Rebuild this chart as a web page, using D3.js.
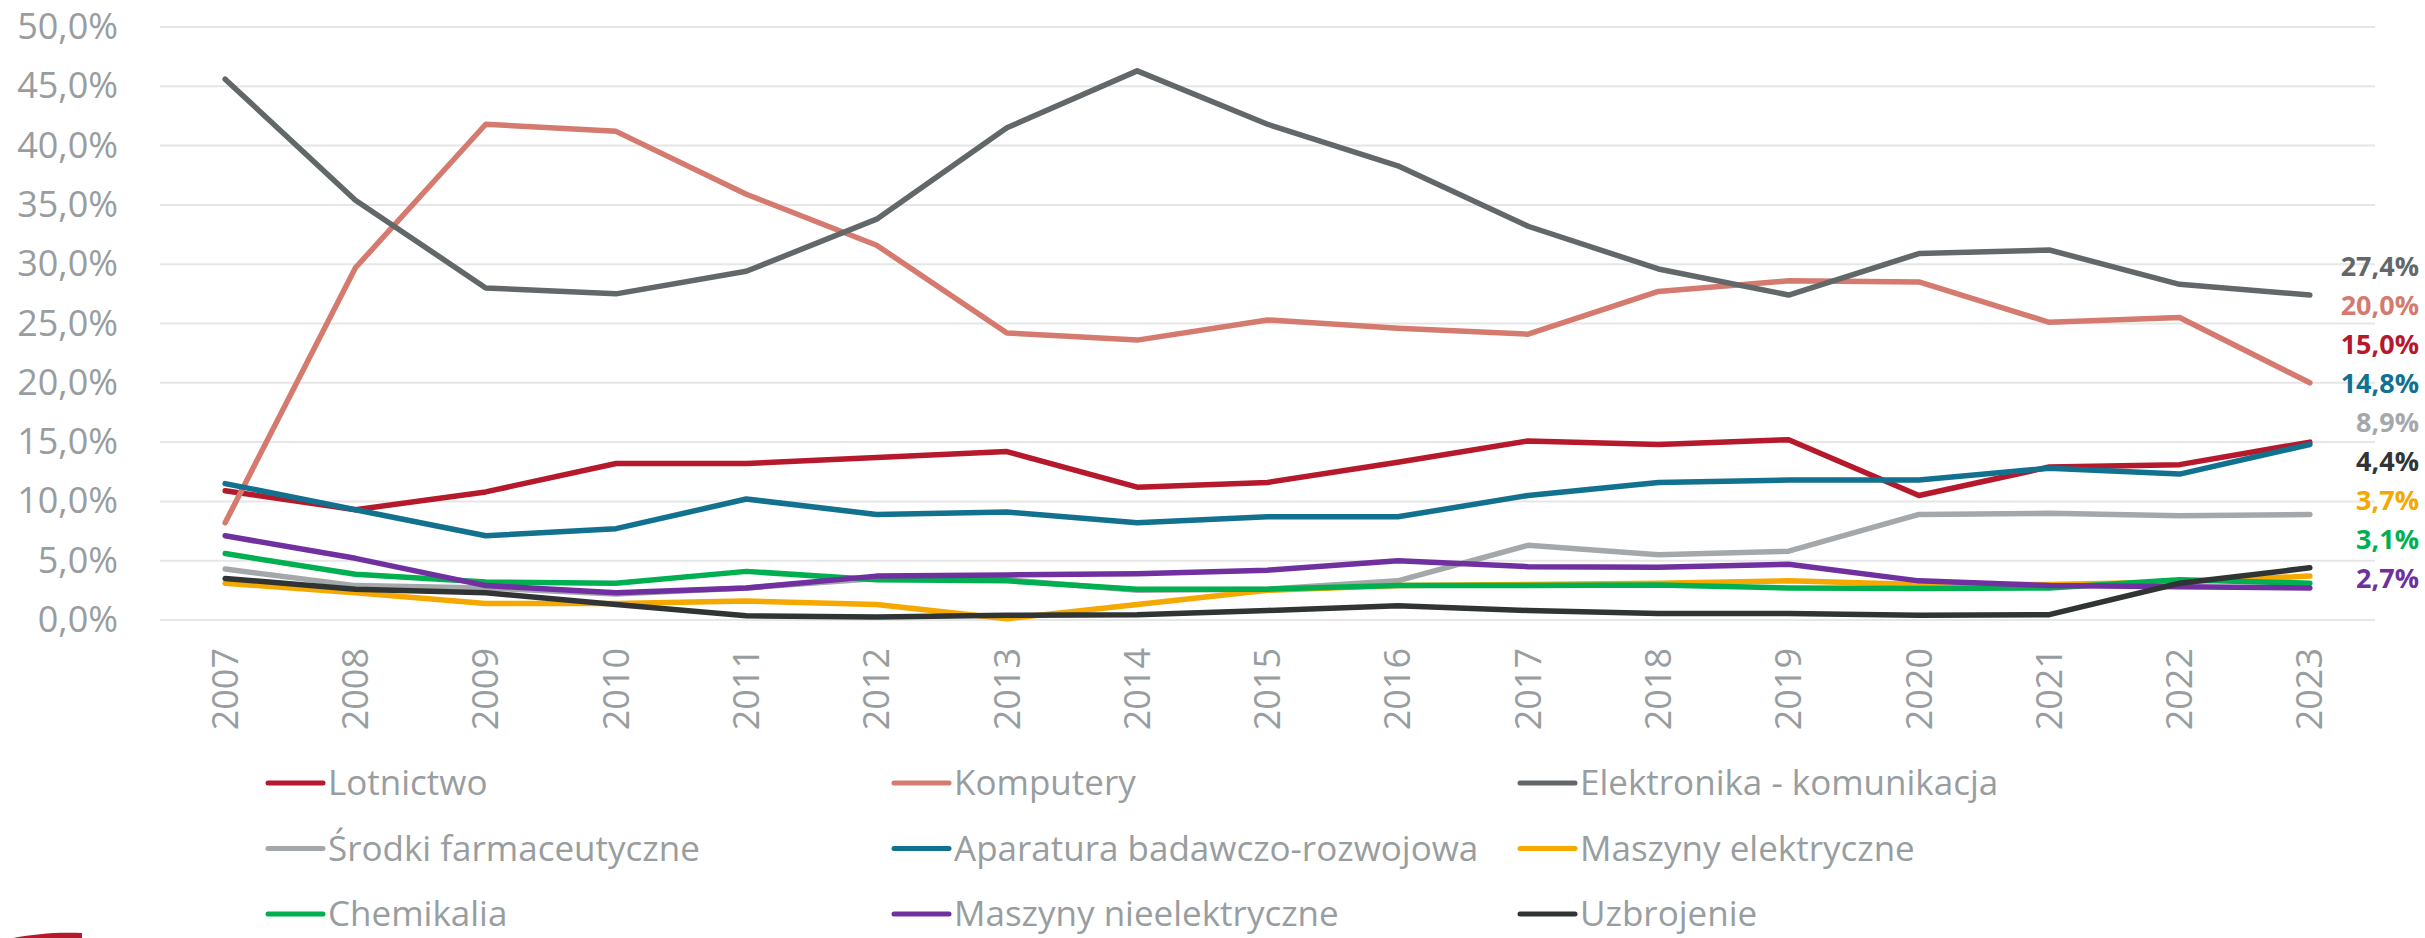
<!DOCTYPE html>
<html>
<head>
<meta charset="utf-8">
<script src="https://cdn.jsdelivr.net/npm/d3@7"></script>
<style>
  body { margin: 0; background: #fff; }
  svg { display: block; font-family: "Open Sans", sans-serif; }
</style>
</head>
<body>
<div id="chart"></div>
<script>
// Line chart - udzial grup produktow high-tech w eksporcie

// Data
var years = ["2007", "2008", "2009", "2010", "2011", "2012", "2013", "2014", "2015", "2016", "2017", "2018", "2019", "2020", "2021", "2022", "2023"];
var yTicks = [0, 5, 10, 15, 20, 25, 30, 35, 40, 45, 50];

var seriesNames = ["Lotnictwo", "Komputery", "Elektronika - komunikacja",
  "Środki farmaceutyczne", "Aparatura badawczo-rozwojowa", "Maszyny elektryczne",
  "Chemikalia", "Maszyny nieelektryczne", "Uzbrojenie"];

var lotnictwo = [10.9, 9.3, 10.8, 13.2, 13.2, 13.7, 14.2, 11.2, 11.6, 13.3, 15.1, 14.8, 15.2, 10.5, 12.9, 13.1, 15.0];
var komputery = [8.2, 29.7, 41.8, 41.2, 35.9, 31.6, 24.2, 23.6, 25.3, 24.6, 24.1, 27.7, 28.6, 28.5, 25.1, 25.5, 20.0];
var elektronika = [45.6, 35.4, 28.0, 27.5, 29.4, 33.8, 41.5, 46.3, 41.8, 38.3, 33.2, 29.6, 27.4, 30.9, 31.2, 28.3, 27.4];
var farmacja = [4.3, 2.9, 2.7, 2.2, 2.7, 3.5, 3.4, 2.5, 2.6, 3.3, 6.3, 5.5, 5.8, 8.9, 9.0, 8.8, 8.9];
var aparatura = [11.5, 9.3, 7.1, 7.7, 10.2, 8.9, 9.1, 8.2, 8.7, 8.7, 10.5, 11.6, 11.8, 11.8, 12.8, 12.3, 14.8];
var maszynyElektr = [3.1, 2.3, 1.4, 1.4, 1.6, 1.3, 0.1, 1.3, 2.5, 2.9, 3.0, 3.1, 3.3, 3.0, 3.0, 3.2, 3.7];
var chemikalia = [5.6, 3.85, 3.2, 3.1, 4.1, 3.4, 3.3, 2.6, 2.6, 2.9, 2.9, 2.95, 2.7, 2.65, 2.7, 3.4, 3.1];
var maszynyNieelektr = [7.1, 5.2, 2.9, 2.3, 2.7, 3.7, 3.8, 3.9, 4.2, 5.0, 4.5, 4.45, 4.7, 3.3, 2.9, 2.8, 2.7];
var uzbrojenie = [3.5, 2.6, 2.3, 1.3, 0.35, 0.25, 0.4, 0.45, 0.8, 1.2, 0.8, 0.55, 0.55, 0.4, 0.45, 3.1, 4.4];

var colors = ["#b5192b", "#d47a6e", "#626869", "#a5a8aa", "#12718f", "#f5a800", "#00b050", "#7030a0", "#303435"];

// order of the value labels on the right (top to bottom)
var labelOrder = [2, 1, 0, 4, 3, 8, 5, 6, 7];

var allSeries = [lotnictwo, komputery, elektronika, farmacja, aparatura,
  maszynyElektr, chemikalia, maszynyNieelektr, uzbrojenie];

//  Width and height of element
var width = 2425;
var height = 938;

var margin = {
  top: 27,
  left: 160,
  right: 50,
  bottom: 318 // 0% gridline sits at y = 620
};

var textGrey = "#989d9f";

var svg = d3.select("#chart")
  .append("svg")
  .attr("width", width)
  .attr("height", height);

// x scale (bands, lines go through the middle)
var x_scale = d3.scaleBand()
  .domain(years)
  .range([margin.left, width - margin.right]);

var xMid = function(yr) {
  return x_scale(yr) + x_scale.bandwidth() / 2;
};

// y scale
var y_scale = d3.scaleLinear()
  .domain([0, 50])
  .range([height - margin.bottom, margin.top]);

// Gridlines
svg.append("g")
  .attr("class", "grid")
  .selectAll("line")
  .data(yTicks)
  .enter()
  .append("line")
  .attr("x1", margin.left)
  .attr("x2", width - margin.right)
  .attr("y1", function(d) { return y_scale(d); })
  .attr("y2", function(d) { return y_scale(d); })
  .attr("stroke", "#e6e6e6")
  .attr("stroke-width", 2);

// y axis labels
var yaxis = d3.axisLeft(y_scale)
  .tickValues(yTicks)
  .tickSize(0)
  .tickPadding(0)
  .tickFormat(function(d) { return d3.format(".1f")(d).replace(".", ",") + "%"; });

var gy = svg.append("g")
  .attr("class", "y axis")
  .attr("transform", "translate(118,0)")
  .call(yaxis);
gy.select(".domain").remove();
gy.selectAll("text")
  .attr("fill", textGrey)
  .style("font-size", "36px")
  .style("font-family", "'Open Sans', sans-serif");

// x axis labels (rotated)
var xaxis = d3.axisBottom(x_scale)
  .tickSize(0)
  .tickPadding(0);

var gx = svg.append("g")
  .attr("class", "x axis")
  .attr("transform", "translate(0,648)")
  .call(xaxis);
gx.select(".domain").remove();
gx.selectAll("text")
  .attr("fill", textGrey)
  .style("font-size", "36px")
  .style("font-family", "'Open Sans', sans-serif")
  .attr("text-anchor", "end")
  .attr("transform", "rotate(-90)")
  .attr("x", 0)
  .attr("y", 0)
  .attr("dy", "0.35em");

// Lines
var line = d3.line()
  .x(function(d, i) { return xMid(years[i]); })
  .y(function(d) { return y_scale(d); });

svg.append("g")
  .attr("class", "lines")
  .selectAll("path")
  .data(allSeries)
  .enter()
  .append("path")
  .attr("d", line)
  .attr("fill", "none")
  .attr("stroke", function(d, i) { return colors[i]; })
  .attr("stroke-width", 5.5)
  .attr("stroke-linecap", "round")
  .attr("stroke-linejoin", "round");

// value labels for 2023 on the right
svg.append("g")
  .attr("class", "end-labels")
  .selectAll("text")
  .data(labelOrder)
  .enter()
  .append("text")
  .attr("x", 2419)
  .attr("y", function(d, i) { return 267 + i * 38.9; })
  .attr("dy", "0.35em")
  .attr("text-anchor", "end")
  .attr("fill", function(d) { return colors[d]; })
  .style("font-size", "27px")
  .style("font-weight", "bold")
  .text(function(d) {
    var v = allSeries[d][years.length - 1];
    return d3.format(".1f")(v).replace(".", ",") + "%";
  });

// Legend - 3 columns x 3 rows
var legend = svg.append("g")
  .attr("class", "legend")
  .selectAll("g")
  .data(seriesNames)
  .enter()
  .append("g")
  .attr("transform", function(d, i) {
    return "translate(" + (268 + (i % 3) * 626) + "," + (783 + Math.floor(i / 3) * 65.5) + ")";
  });

legend.append("line")
  .attr("x1", 0)
  .attr("x2", 55)
  .attr("stroke", function(d, i) { return colors[i]; })
  .attr("stroke-width", 5)
  .attr("stroke-linecap", "round");

legend.append("text")
  .attr("x", 60)
  .attr("dy", "0.35em")
  .attr("fill", textGrey)
  .style("font-size", "35px")
  .text(function(d) { return d; });

// little red logo piece at the bottom left corner (cut off)
svg.append("path")
  .attr("d", "M13,938 C35,934 55,932 82,933 L82,938 Z")
  .attr("fill", "#b5192b");
</script>
</body>
</html>
